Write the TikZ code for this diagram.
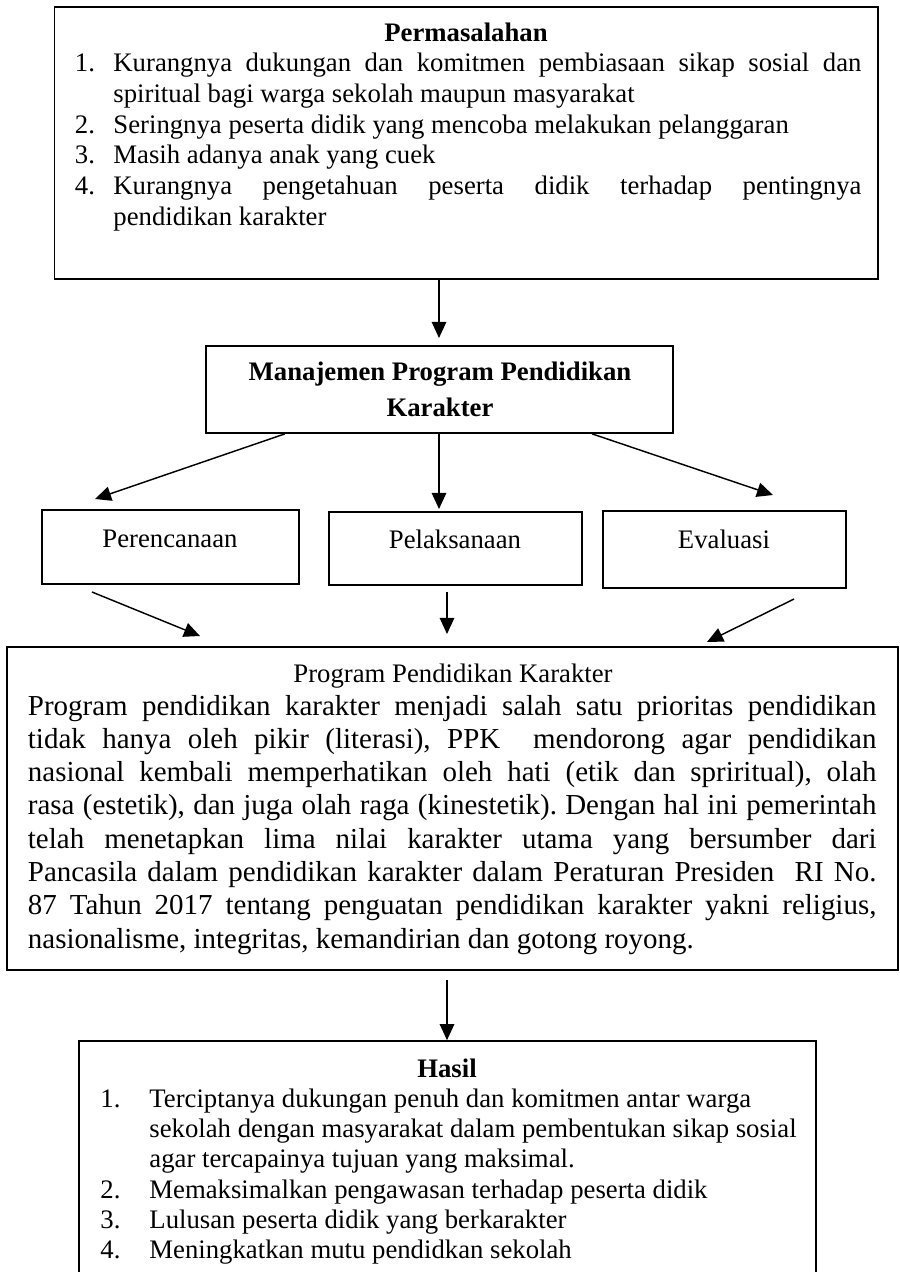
\documentclass[tikz,border=0pt]{standalone}
\usepackage{fontspec}
\setmainfont{Liberation Serif}
\usetikzlibrary{arrows.meta,fit}
\newlength{\px}\setlength{\px}{0.449pt}
\newcommand\fa{\fontsize{12pt}{14pt}\selectfont}
\newcommand\fb{\fontsize{13pt}{15pt}\selectfont}
\frenchspacing
\begin{document}
\begin{tikzpicture}[x=0.449pt,y=-0.449pt,
  box/.style={draw, line width=0.75pt, inner sep=0pt},
  txt/.style={inner sep=0pt, font=\fa, anchor=base west},
  btxt/.style={inner sep=0pt, font=\fb, anchor=base west},
  ctxt/.style={inner sep=0pt, font=\fa, anchor=base},
  hd/.style={inner sep=0pt, font=\fa\bfseries, anchor=base},
  arr/.style={line width=0.65pt, -{Triangle[length=7.2pt,width=6.5pt]}}]
\useasboundingbox (0,0) rectangle (899,1272);
\clip (0,0) rectangle (899,1272);
% ---------- Permasalahan
\node[box, fit={(54.5,7) (878,279)}] (b1) {};
\node[hd] (p0) at (466,42) {Permasalahan};
\node[txt] (p1n) at (74.5,72) {1.};
\node[txt] (p1a) at (113,72) {\makebox[748\px][s]{Kurangnya dukungan dan komitmen pembiasaan sikap sosial dan}};
\node[txt] (p1b) at (113,102.6) {spiritual bagi warga sekolah maupun masyarakat};
\node[txt] (p2n) at (74.5,133.2) {2.};
\node[txt] (p2a) at (113,133.2) {Seringnya peserta didik yang mencoba melakukan pelanggaran};
\node[txt] (p3n) at (74.5,163.8) {3.};
\node[txt] (p3a) at (113,163.8) {Masih adanya anak yang cuek};
\node[txt] (p4n) at (74.5,194.4) {4.};
\node[txt] (p4a) at (113,194.4) {\makebox[748\px][s]{Kurangnya pengetahuan peserta didik terhadap pentingnya}};
\node[txt] (p4b) at (113,225) {pendidikan karakter};
% ---------- Manajemen
\node[box, fit={(206,346) (673,433)}] (b2) {};
\node[hd] (m1) at (440,380) {Manajemen Program Pendidikan};
\node[hd] (m2) at (440,416) {Karakter};
\coordinate (a1e) at (439,338);
\draw[arr] (a1e |- b1.south) -- (a1e);
% ---------- three boxes
\node[box, fit={(42,510) (299,584)}] (c1) {};
\node[box, fit={(329,512) (582,585)}] (c2) {};
\node[box, fit={(603,511) (846,588)}] (c3) {};
\node[ctxt] (c1t) at (170,547) {Perencanaan};
\node[ctxt] (c2t) at (455,548) {Pelaksanaan};
\node[ctxt] (c3t) at (724,548) {Evaluasi};
\coordinate (x2l) at (285,0);
\coordinate (x2r) at (592,0);
\coordinate (a2l) at (95,499);
\coordinate (a2m) at (439,509);
\coordinate (a2r) at (773,495);
\draw[arr] (x2l |- b2.south) -- (a2l);
\draw[arr] (a2m |- b2.south) -- (a2m);
\draw[arr] (x2r |- b2.south) -- (a2r);
\coordinate (d1s) at (92,592);
\coordinate (d1e) at (200,636);
\coordinate (d2s) at (447,592);
\coordinate (d2e) at (447,634);
\coordinate (d3s) at (794,599);
\coordinate (d3e) at (707,642);
\draw[arr] (d1s) -- (d1e);
\draw[arr] (d2s) -- (d2e);
\draw[arr] (d3s) -- (d3e);
% ---------- Program Pendidikan Karakter
\node[box, fit={(7,647) (898,970)}] (b6) {};
\node[ctxt] (g0) at (453,682) {Program Pendidikan Karakter};
\node[btxt] (g1) at (27.5,715) {\makebox[848.5\px][s]{Program pendidikan karakter menjadi salah satu prioritas pendidikan}};
\node[btxt] (g2) at (27.5,748.3) {\makebox[848.5\px][s]{tidak hanya oleh pikir (literasi), PPK\ \ mendorong agar pendidikan}};
\node[btxt] (g3) at (27.5,781.6) {\makebox[848.5\px][s]{nasional kembali memperhatikan oleh hati (etik dan spriritual), olah}};
\node[btxt] (g4) at (27.5,814.9) {\makebox[848.5\px][s]{rasa (estetik), dan juga olah raga (kinestetik). Dengan hal ini pemerintah}};
\node[btxt] (g5) at (27.5,848.2) {\makebox[848.5\px][s]{telah menetapkan lima nilai karakter utama yang bersumber dari}};
\node[btxt] (g6) at (27.5,881.5) {\makebox[848.5\px][s]{Pancasila dalam pendidikan karakter dalam Peraturan Presiden\ \ RI No.}};
\node[btxt] (g7) at (27.5,914.8) {\makebox[848.5\px][s]{87 Tahun 2017 tentang penguatan pendidikan karakter yakni religius,}};
\node[btxt] (g8) at (27.5,948.1) {nasionalisme, integritas, kemandirian dan gotong royong.};
% ---------- Hasil
\node[box, fit={(79,1041) (816,1300)}] (b7) {};
\coordinate (a7s) at (447,980);
\draw[arr] (a7s) -- (a7s |- b7.north);
\node[hd] (h0) at (447,1077) {Hasil};
\node[txt] (h1n) at (100,1107) {1.};
\node[txt] (h1a) at (149,1107) {Terciptanya dukungan penuh dan komitmen antar warga};
\node[txt] (h1b) at (149,1137) {sekolah dengan masyarakat dalam pembentukan sikap sosial};
\node[txt] (h1c) at (149,1167) {agar tercapainya tujuan yang maksimal.};
\node[txt] (h2n) at (100,1198) {2.};
\node[txt] (h2a) at (149,1198) {Memaksimalkan pengawasan terhadap peserta didik};
\node[txt] (h3n) at (100,1228) {3.};
\node[txt] (h3a) at (149,1228) {Lulusan peserta didik yang berkarakter};
\node[txt] (h4n) at (100,1258) {4.};
\node[txt] (h4a) at (149,1258) {Meningkatkan mutu pendidkan sekolah};
\end{tikzpicture}
\end{document}
